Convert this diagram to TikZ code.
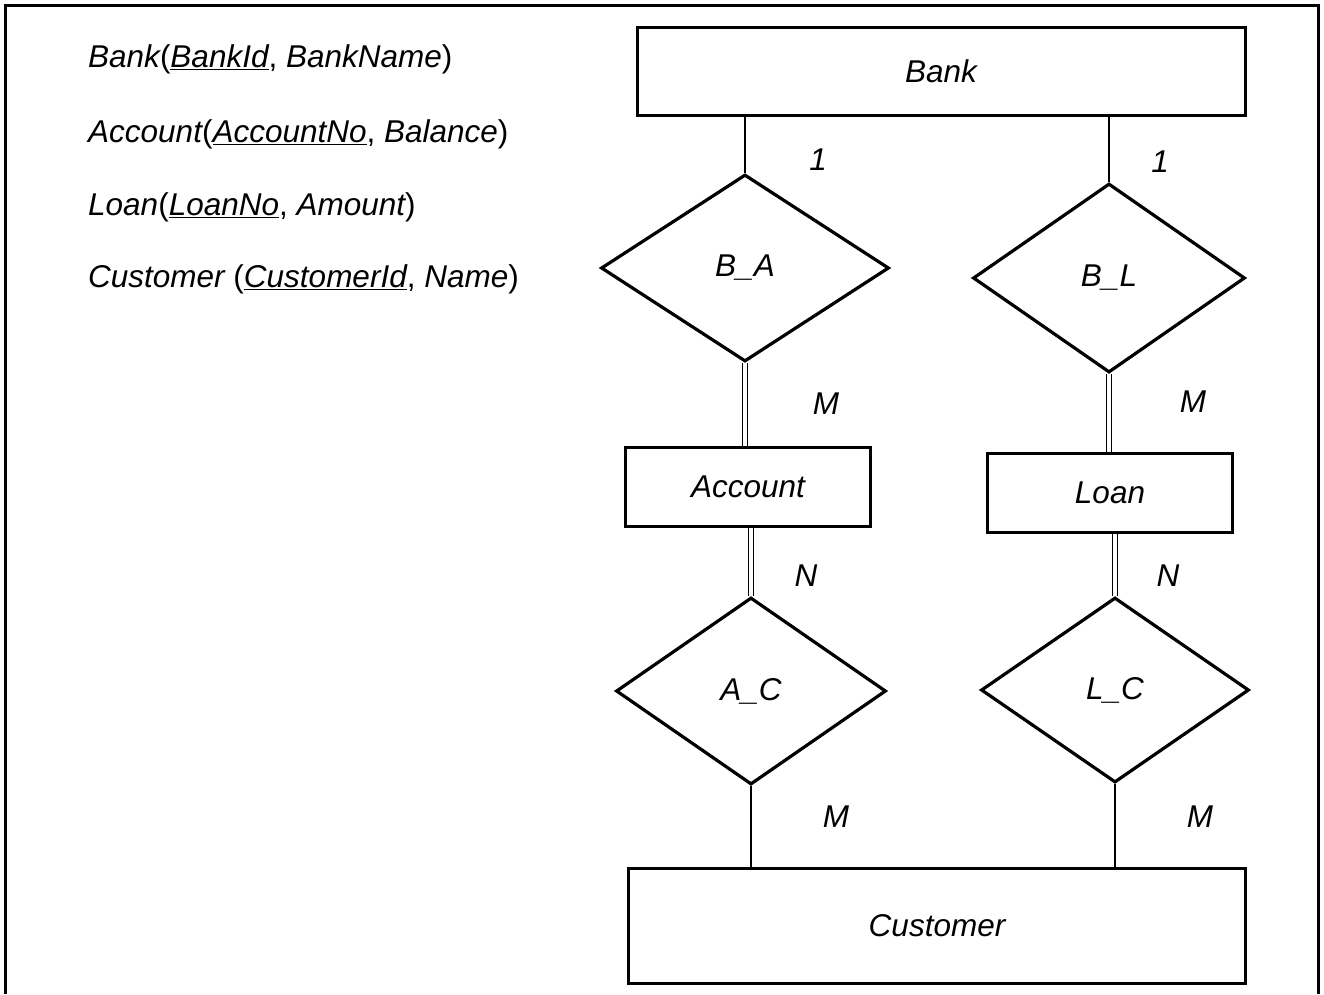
\documentclass[tikz,border=0pt]{standalone}
\usepackage{fontspec}
\setmainfont{Liberation Sans}
\usetikzlibrary{shapes.geometric}
\begin{document}
\begin{tikzpicture}[x=1pt,y=-1pt,
  every node/.style={font=\fontsize{31.5}{36}\selectfont\itshape},
  entity/.style={draw,line width=3pt,rectangle,inner sep=0pt},
  rel/.style={draw,line width=3.2pt,diamond,inner sep=0pt},
  conn/.style={line width=1.3pt},
  dbl/.style={double,double distance=4pt,line width=1.2pt},
  card/.style={inner sep=0pt},
  schema/.style={anchor=base west,inner sep=0pt}]
\useasboundingbox (0,0) rectangle (1324,994);
\draw[line width=3pt] (5,994) -- (5,5) -- (1318,5) -- (1318,994);

% schema text
\node[schema] (s1) at (88,67) {Bank\upshape(\itshape\underline{BankId}\upshape, \itshape BankName\upshape)};
\node[schema] (s2) at (88,142) {Account\upshape(\itshape\underline{AccountNo}\upshape, \itshape Balance\upshape)};
\node[schema] (s3) at (88,215) {Loan\upshape(\itshape\underline{LoanNo}\upshape, \itshape Amount\upshape)};
\node[schema] (s4) at (88,287) {Customer \upshape(\itshape\underline{CustomerId}\upshape, \itshape Name\upshape)};

% entities
\node[entity,minimum width=608pt,minimum height=88pt] (bank) at (941,71) {Bank};
\node[entity,minimum width=245pt,minimum height=79pt] (acc) at (748,487) {Account};
\node[entity,minimum width=245pt,minimum height=79pt] (loan) at (1110,493) {Loan};
\node[entity,minimum width=617pt,minimum height=115pt] (cust) at (937,926) {Customer};

% relationships
\node[rel,minimum width=288pt,minimum height=187pt] (ba) at (745,268) {B\_A};
\node[rel,minimum width=272pt,minimum height=189pt] (bl) at (1109,278) {B\_L};
\node[rel,minimum width=270pt,minimum height=187pt] (ac) at (751,691) {A\_C};
\node[rel,minimum width=268pt,minimum height=185pt] (lc) at (1115,690) {L\_C};

% connectors
\draw[conn] (ba.north |- bank.south) -- (ba.north);
\draw[conn] (bl.north |- bank.south) -- (bl.north);
\draw[dbl] (ba.south) -- (ba.south |- acc.north);
\draw[dbl] (bl.south) -- (bl.south |- loan.north);
\draw[dbl] (ac.north |- acc.south) -- (ac.north);
\draw[dbl] (lc.north |- loan.south) -- (lc.north);
\draw[conn] (ac.south) -- (ac.south |- cust.north);
\draw[conn] (lc.south) -- (lc.south |- cust.north);

% cardinalities
\node[card] (c1) at (818,160) {1};
\node[card] (c2) at (1160,162) {1};
\node[card] (c3) at (826,404) {M};
\node[card] (c4) at (1193,402) {M};
\node[card] (c5) at (806,576) {N};
\node[card] (c6) at (1168,576) {N};
\node[card] (c7) at (836,817) {M};
\node[card] (c8) at (1200,817) {M};
\end{tikzpicture}
\end{document}
